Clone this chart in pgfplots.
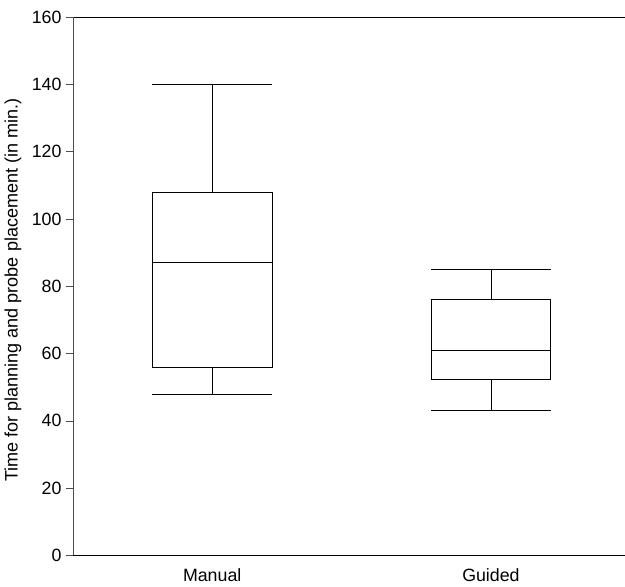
\documentclass[border=0pt]{standalone}
\usepackage{pgfplots}
\pgfplotsset{compat=1.18}
\usepgfplotslibrary{statistics}
\usepackage{fontspec}
\setmainfont{Liberation Sans}
\begin{document}
\begin{tikzpicture}
\begin{axis}[
  name=ax,
  scale only axis, width=413pt, height=403pt,
  xmin=0.5, xmax=2.48, ymin=0, ymax=160,
  axis x line=box, axis y line=left, axis line style={-},
  y axis line style={black!70},
  ytick={0,20,...,160}, xtick={1,2}, xticklabels={Manual,Guided},
  x tick style={draw=none}, y tick style={black!70},
  tick align=outside, ytick pos=left,
  major tick length=5pt,
  xticklabel style={yshift=-1.5pt},
  ylabel={Time for planning and probe placement (in min.)},
  ylabel style={yshift=1pt, xshift=-3pt},
  tick label style={font=\fontsize{13.3}{15}\selectfont},
  label style={font=\fontsize{13.5}{15}\selectfont},
  /pgf/number format/assume math mode=true,
  boxplot/draw direction=y,
]
\addplot[draw=black, line width=0.6pt, boxplot prepared={median=87, upper quartile=107.8, lower quartile=56, upper whisker=140, lower whisker=48, draw position=1, box extend=0.43, whisker extend=0.43}] coordinates {};
\addplot[draw=black, line width=0.6pt, boxplot prepared={median=61, upper quartile=76, lower quartile=52.2, upper whisker=85, lower whisker=43, draw position=2, box extend=0.43, whisker extend=0.43}] coordinates {};
\end{axis}
\path (ax.north west) ++(0,12.7pt);
\end{tikzpicture}
\end{document}
